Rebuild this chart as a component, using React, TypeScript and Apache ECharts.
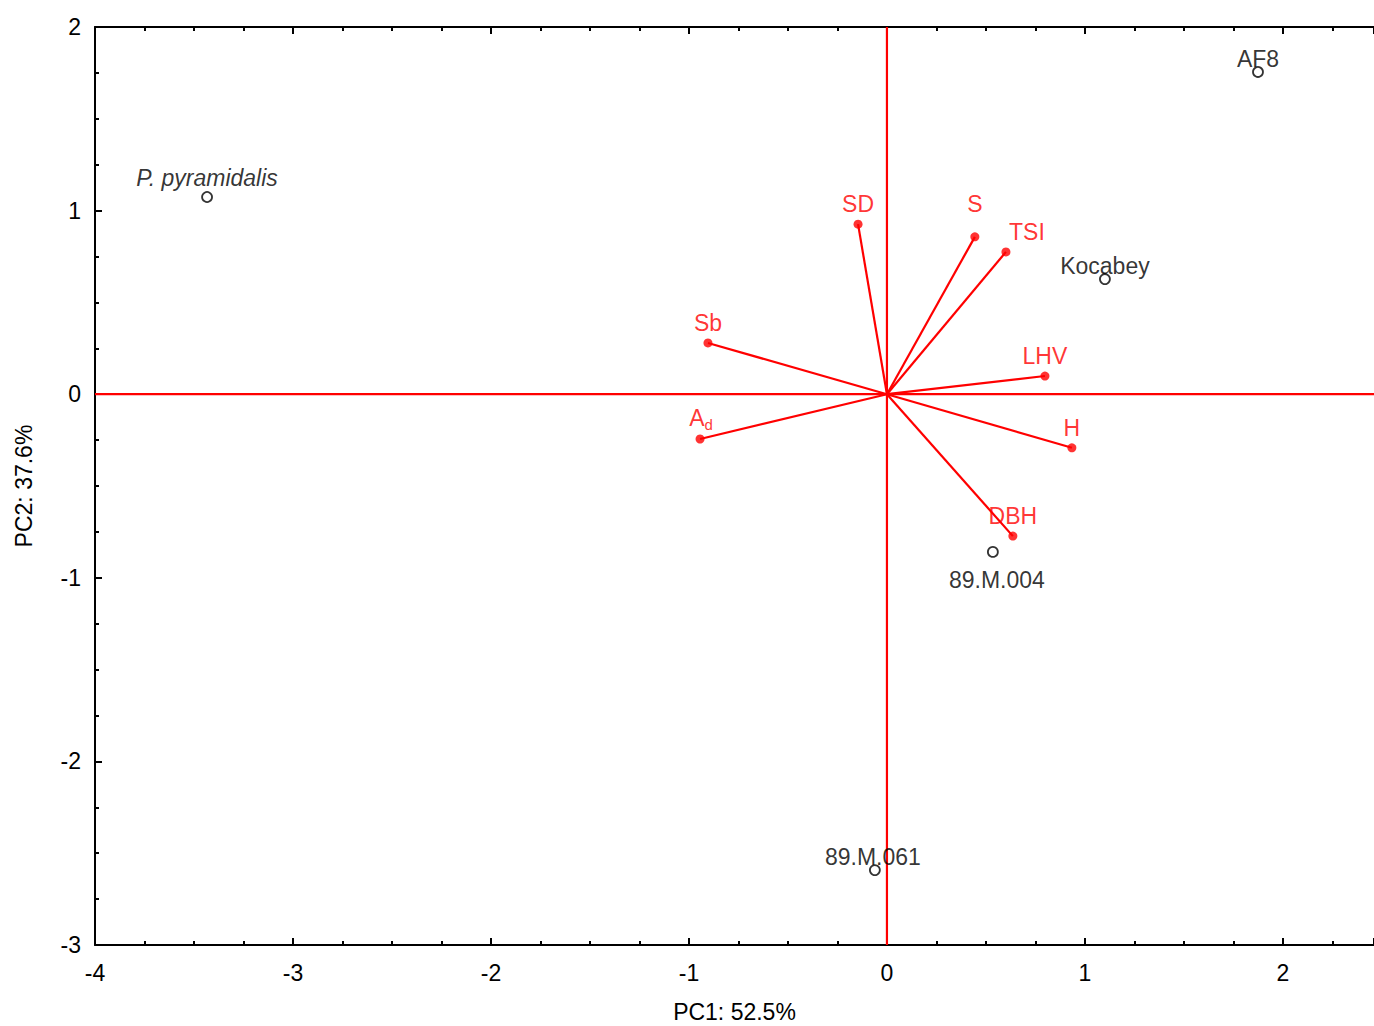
import React, { useEffect, useRef } from "react";
import * as echarts from "echarts";

// Sample scores (PC1, PC2)
const sampleNames = ["P. pyramidalis", "AF8", "Kocabey", "89.M.004", "89.M.061"];
const samplePC1 = [-3.434, 1.874, 1.101, 0.535, -0.061];
const samplePC2 = [1.074, 1.755, 0.627, -0.859, -2.592];

// Variable loadings (PC1, PC2)
const varNames = ["SD", "S", "TSI", "Sb", "LHV", "Ad", "H", "DBH"];
const varPC1 = [-0.146, 0.444, 0.601, -0.904, 0.798, -0.944, 0.934, 0.636];
const varPC2 = [0.926, 0.857, 0.775, 0.279, 0.099, -0.244, -0.292, -0.773];

const xTicks = [-4, -3, -2, -1, 0, 1, 2];
const yTicks = [-3, -2, -1, 0, 1, 2];
const xName = "PC1: 52.5%";
const yName = "PC2: 37.6%";

// label placement (style only)
const sampleLabelOffset: Record<string, number[]> = {
  "P. pyramidalis": [0, -19],
  AF8: [0, -13],
  Kocabey: [0, -13],
  "89.M.004": [4, 28],
  "89.M.061": [-2, -13],
};
const varLabelOffset: Record<string, number[]> = {
  SD: [0, -20],
  S: [0, -33],
  TSI: [21, -20],
  Sb: [0, -20],
  LHV: [0, -20],
  Ad: [1, -21],
  H: [0, -20],
  DBH: [0, -20],
};

const FONT = "Liberation Sans, Arial, sans-serif";
const RED = "#ff0000";
const FS = 23;

export default function App() {
  const ref = useRef<HTMLDivElement>(null);
  useEffect(() => {
    if (!ref.current) return;
    const chart = echarts.init(ref.current, undefined, { renderer: "svg" });
    const xMin = xTicks[0];
    const xMax = 2.46;
    const yMin = yTicks[0];
    const yMax = yTicks[yTicks.length - 1];

    const vectorSeries = varNames.map((n, i) => ({
      type: "line",
      name: n,
      data: [
        [0, 0],
        [varPC1[i], varPC2[i]],
      ],
      showSymbol: false,
      symbol: "none",
      lineStyle: { color: RED, width: 2.2 },
      silent: true,
      z: 3,
    }));

    chart.setOption({
      animation: false,
      textStyle: { fontFamily: FONT },
      grid: {
        left: 95,
        top: 27,
        right: 0,
        bottom: 81,
        containLabel: false,
        outerBoundsMode: "none",
      },
      xAxis: [
        {
          type: "value",
          min: xMin,
          max: xMax,
          interval: 1,
          position: "bottom",
          name: xName,
          nameLocation: "middle",
          nameGap: 55,
          nameTextStyle: { fontSize: FS, color: "#000", fontFamily: FONT },
          axisLine: { show: true, onZero: false, lineStyle: { color: "#000", width: 2 } },
          axisTick: { show: true, inside: true, length: 7, lineStyle: { color: "#000", width: 2 } },
          minorTick: { show: true, splitNumber: 4, length: 4, lineStyle: { color: "#000", width: 2 } },
          axisLabel: {
            fontSize: FS,
            color: "#000",
            margin: 16,
            fontFamily: FONT,
            showMaxLabel: false,
            formatter: (v: number) => (xTicks.includes(v) ? String(v) : ""),
          },
          splitLine: { show: false },
        },
        {
          type: "value",
          min: xMin,
          max: xMax,
          interval: 1,
          position: "top",
          axisLine: { show: true, onZero: false, lineStyle: { color: "#000", width: 2 } },
          axisTick: { show: true, inside: true, length: 7, lineStyle: { color: "#000", width: 2 } },
          minorTick: { show: true, splitNumber: 4, length: 4, lineStyle: { color: "#000", width: 2 } },
          axisLabel: { show: false },
          splitLine: { show: false },
        },
      ],
      yAxis: {
        type: "value",
        min: yMin,
        max: yMax,
        interval: 1,
        name: yName,
        nameLocation: "middle",
        nameGap: 60,
        nameTextStyle: { fontSize: FS, color: "#000", fontFamily: FONT },
        axisLine: { show: true, onZero: false, lineStyle: { color: "#000", width: 2 } },
        axisTick: { show: true, inside: true, length: 7, lineStyle: { color: "#000", width: 2 } },
        minorTick: { show: true, splitNumber: 4, length: 4, lineStyle: { color: "#000", width: 2 } },
        axisLabel: { fontSize: FS, color: "#000", margin: 14, fontFamily: FONT },
        splitLine: { show: false },
      },
      series: [
        {
          type: "line",
          name: "hline",
          data: [
            [xMin, 0],
            [xMax, 0],
          ],
          symbol: "none",
          lineStyle: { color: RED, width: 2.2 },
          silent: true,
          z: 2,
        },
        {
          type: "line",
          name: "vline",
          data: [
            [0, yMin],
            [0, yMax],
          ],
          symbol: "none",
          lineStyle: { color: RED, width: 2.2 },
          silent: true,
          z: 2,
        },
        ...vectorSeries,
        {
          type: "scatter",
          name: "variables",
          symbol: "circle",
          symbolSize: 9,
          itemStyle: { color: RED },
          z: 5,
          data: varNames.map((n, i) => ({
            name: n,
            value: [varPC1[i], varPC2[i]],
            label: {
              show: true,
              position: "inside",
              offset: varLabelOffset[n],
              formatter: n === "Ad" ? "{a|A}{d|d}" : n,
              color: RED,
              fontSize: FS,
              fontFamily: FONT,
              rich: {
                a: { fontSize: FS, color: RED, fontFamily: FONT },
                d: { fontSize: 15, color: RED, fontFamily: FONT, padding: [13, 0, 0, 0] },
              },
            },
          })),
        },
        {
          type: "scatter",
          name: "samples",
          symbol: "circle",
          symbolSize: 10,
          itemStyle: { color: "#fff", borderColor: "#000", borderWidth: 1.8 },
          z: 6,
          data: sampleNames.map((n, i) => ({
            name: n,
            value: [samplePC1[i], samplePC2[i]],
            label: {
              show: true,
              position: "inside",
              offset: sampleLabelOffset[n],
              formatter: n,
              color: "#000",
              fontSize: FS,
              fontFamily: FONT,
              fontStyle: n === "P. pyramidalis" ? "italic" : "normal",
            },
          })),
        },
      ],
    });
    return () => chart.dispose();
  }, []);
  return (
    <div
      ref={ref}
      style={{ position: "fixed", left: 0, top: 0, width: 1374, height: 1026, background: "#fff" }}
    />
  );
}
